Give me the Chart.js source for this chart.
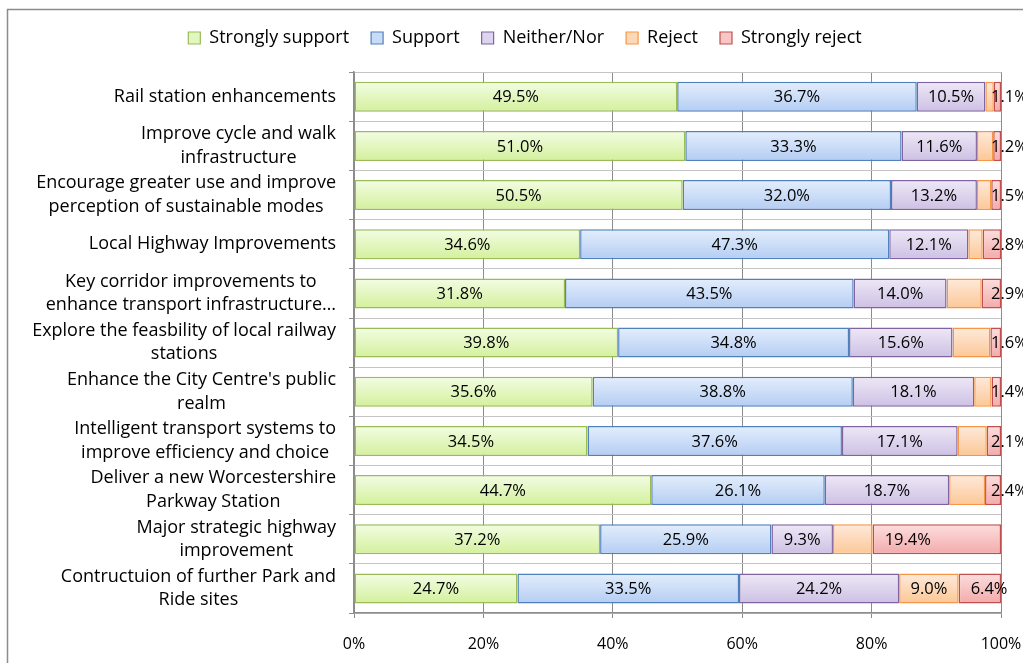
<!DOCTYPE html>
<html><head><meta charset="utf-8">
<script src="https://cdn.jsdelivr.net/npm/chart.js@4.4.0/dist/chart.umd.min.js"></script>
<style>html,body{margin:0;padding:0;background:#fff}#wrap{width:1023px;height:663px;position:relative}</style>
</head><body><div id="wrap"><canvas id="c" width="1023" height="663"></canvas></div>
<script>
const categories = [
  "Rail station enhancements",
  ["Improve cycle and walk", "infrastructure"],
  ["Encourage greater use and improve", "perception of sustainable modes"],
  "Local Highway Improvements",
  ["Key corridor improvements to", "enhance transport infrastructure\u2026"],
  ["Explore the feasbility of local railway", "stations"],
  ["Enhance the City Centre's public", "realm"],
  ["Intelligent transport systems to", "improve efficiency and choice"],
  ["Deliver a new Worcestershire", "Parkway Station"],
  ["Major strategic highway", "improvement"],
  ["Contructuion of further Park and", "Ride sites"]
];
const seriesNames = ["Strongly support", "Support", "Neither/Nor", "Reject", "Strongly reject"];
const stronglySupport = [49.5, 51.0, 50.5, 34.6, 31.8, 39.8, 35.6, 34.5, 44.7, 37.2, 24.7];
const support         = [36.7, 33.3, 32.0, 47.3, 43.5, 34.8, 38.8, 37.6, 26.1, 25.9, 33.5];
const neitherNor      = [10.5, 11.6, 13.2, 12.1, 14.0, 15.6, 18.1, 17.1, 18.7, 9.3, 24.2];
const reject          = [1.3, 2.5, 2.2, 2.2, 5.3, 5.7, 2.6, 4.3, 5.4, 6.0, 9.0];
const stronglyReject  = [1.1, 1.2, 1.5, 2.8, 2.9, 1.6, 1.4, 2.1, 2.4, 19.4, 6.4];
const xTickLabels = ["0%", "20%", "40%", "60%", "80%", "100%"];

const FONT = "'Open Sans', sans-serif";
const fills = [
  ['#f3fde4', '#d3f09c'],
  ['#e4eefc', '#b4cdf3'],
  ['#eee8f6', '#cdc0e4'],
  ['#feeadb', '#fcc796'],
  ['#fcdede', '#f3aaaa']
];
const borders = ['#9bbb59', '#4f81bd', '#8064a2', '#f79646', '#c0504d'];
const legendFills = ['#e2f7bf', '#c9dbf7', '#ddd4ee', '#fdd8b6', '#f8c6c6'];

// 100% stacked: each row is drawn as share of its total
const raw = [stronglySupport, support, neitherNor, reject, stronglyReject];
const totals = categories.map((_, i) => raw.reduce((s, a) => s + a[i], 0));
const shares = raw.map(a => a.map((v, i) => v / totals[i] * 100));

const BAR_PCT = 0.61;
const PAD_LEFT = 49;
function gradFill(k) {
  return function (ctx) {
    const chart = ctx.chart, ys = chart.scales && chart.scales.y;
    const col = fills[k];
    if (!ys || !ys.height || ctx.type !== 'data') return col[0];
    const yc = ys.getPixelForValue(ctx.dataIndex);
    const half = ys.height / categories.length * BAR_PCT / 2;
    const g = chart.ctx.createLinearGradient(0, yc - half, 0, yc + half);
    g.addColorStop(0, col[0]);
    g.addColorStop(1, col[1]);
    return g;
  };
}

const customDraw = {
  id: 'customDraw',
  afterDatasetsDraw(chart) {
    const c = chart.ctx, area = chart.chartArea;
    c.save();
    c.font = "16.5px " + FONT;
    c.fillStyle = '#000';
    c.textBaseline = 'middle';
    raw.forEach((arr, k) => {
      const meta = chart.getDatasetMeta(k);
      meta.data.forEach((el, i) => {
        const left = Math.min(el.x, el.base), right = Math.max(el.x, el.base);
        const txt = arr[i].toFixed(1) + '%';
        if (k === 4) {
          c.textAlign = 'left';
          c.fillText(txt, Math.min(left + 12, area.right - 10), el.y + 1);
        } else if (k === 3) {
          if (right - left > 45) { c.textAlign = 'center'; c.fillText(txt, (left + right) / 2, el.y + 1); }
        } else {
          c.textAlign = 'center';
          c.fillText(txt, (left + right) / 2, el.y + 1);
        }
      });
    });
    c.restore();
  },
  afterDraw(chart) {
    const c = chart.ctx, ys = chart.scales.y;
    c.save();
    c.font = "18px " + FONT;
    c.fillStyle = '#000';
    c.textBaseline = 'middle';
    c.textAlign = 'center';
    const rightEdge = ys.right - 18;
    const lh = 23.5;
    categories.forEach((lab, i) => {
      const lines = Array.isArray(lab) ? lab : [lab];
      const w = Math.max(...lines.map(l => c.measureText(l).width));
      const cx = rightEdge - w / 2;
      const yc = ys.getPixelForValue(i);
      lines.forEach((l, j) => {
        c.fillText(l, cx, yc + (j - (lines.length - 1) / 2) * lh);
      });
    });
    c.strokeStyle = '#8c8c8c';
    c.lineWidth = 1.5;
    c.strokeRect(7.5, 9.5, 3000, 3000);
    c.restore();
  }
};

new Chart(document.getElementById('c'), {
  type: 'bar',
  data: {
    labels: categories,
    datasets: shares.map((d, k) => ({
      label: seriesNames[k],
      data: d,
      backgroundColor: gradFill(k),
      borderColor: borders[k],
      borderWidth: 1.5,
      borderSkipped: false,
      barPercentage: BAR_PCT,
      categoryPercentage: 1
    }))
  },
  options: {
    indexAxis: 'y',
    responsive: false,
    animation: false,
    layout: { padding: { left: PAD_LEFT, right: 22, top: 7, bottom: 0 } },
    scales: {
      x: {
        stacked: true,
        min: 0, max: 100,
        ticks: {
          stepSize: 20,
          padding: 17,
          color: '#000',
          font: { family: FONT, size: 16 },
          callback: (v, i) => xTickLabels[i]
        },
        grid: { color: '#8c8c8c', lineWidth: 1, tickLength: 5, tickColor: '#8c8c8c' },
        border: { color: '#8c8c8c', width: 1.5 },
        afterFit(scale) { scale.height = 50; scale.paddingRight = 0; scale.paddingLeft = 0; }
      },
      y: {
        stacked: true,
        ticks: { display: false },
        grid: { color: '#c4c4c4', lineWidth: 1, tickLength: 5, tickColor: '#8c8c8c', offset: true },
        border: { color: '#8c8c8c', width: 1.5 },
        afterFit(scale) { scale.width = 354 - PAD_LEFT; }
      }
    },
    plugins: {
      tooltip: { enabled: false },
      title: { display: true, text: '', font: { size: 1, lineHeight: 1 }, padding: { top: 0, bottom: 14.2 } },
      legend: {
        position: 'top',
        weight: 3000,
        labels: {
          boxWidth: 12, boxHeight: 12, padding: 22,
          color: '#000',
          font: { family: FONT, size: 18 },
          generateLabels: (chart) => seriesNames.map((n, k) => ({
            text: n, fillStyle: legendFills[k], strokeStyle: borders[k], lineWidth: 1.2,
            hidden: false, datasetIndex: k, fontColor: '#000'
          }))
        }
      }
    }
  },
  plugins: [customDraw]
});
</script>
</body></html>
